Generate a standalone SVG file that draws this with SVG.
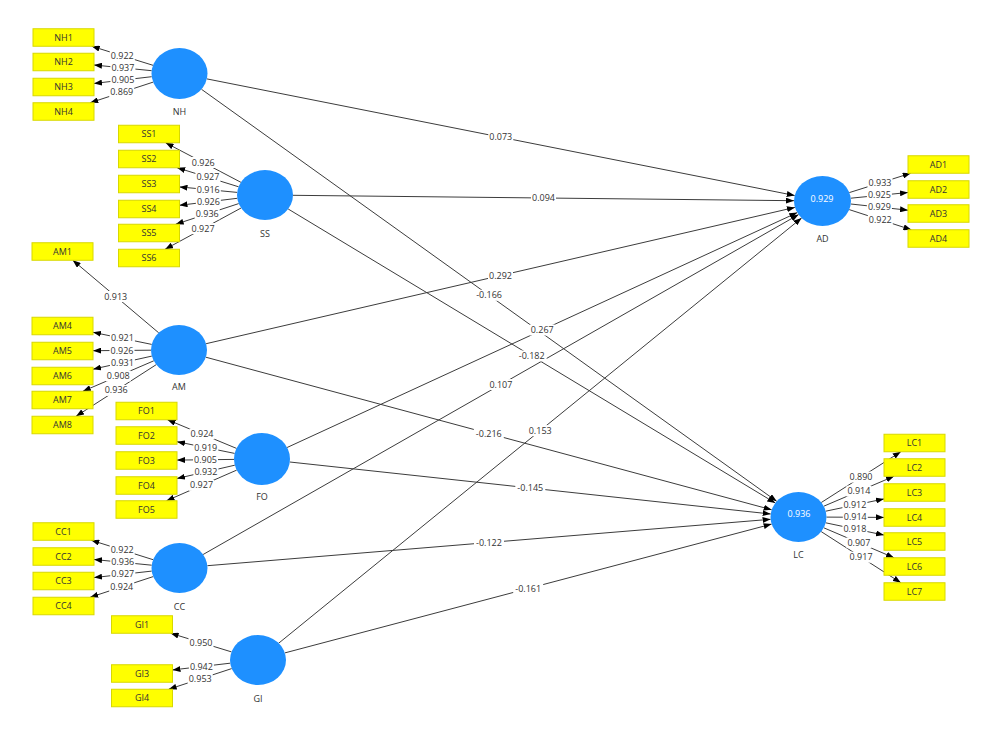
<svg xmlns="http://www.w3.org/2000/svg" width="989" height="733" viewBox="0 0 989 733">
<defs>
<marker id="arr" viewBox="0 0 8 6" refX="8" refY="3" markerWidth="8" markerHeight="6" orient="auto" markerUnits="userSpaceOnUse"><path d="M0,0 L8,3 L0,6 z" fill="#000"/></marker>
<style>
.bg{fill:#fff}
.box{fill:#ffff00;stroke:#d8d800;stroke-width:1}
.bt{font-family:"Open Sans","Liberation Sans",sans-serif;font-size:9px;fill:#333;text-anchor:middle}
.lv{fill:#1e90ff}
.vt{font-family:"Open Sans","Liberation Sans",sans-serif;font-size:9px;fill:#fff;text-anchor:middle}
.ln{stroke:#3c3c3c;stroke-width:1;fill:none;marker-end:url(#arr)}
.lr{fill:#fff}
.lt{font-family:"Open Sans","Liberation Sans",sans-serif;font-size:9px;fill:#333;text-anchor:middle}
</style>
</defs>
<rect class="bg" x="0" y="0" width="989" height="733"/>
<g id="connectors">
<line class="ln" x1="153.0" y1="65.3" x2="91.7" y2="46.25"/>
<line class="ln" x1="151.7" y1="70.7" x2="94" y2="65.0"/>
<line class="ln" x1="151.7" y1="76.7" x2="94" y2="83.45"/>
<line class="ln" x1="153.2" y1="82.1" x2="90.2" y2="102.75"/>
<line class="ln" x1="240.9" y1="182.3" x2="165.6" y2="142.75"/>
<line class="ln" x1="238.6" y1="186.8" x2="177.2" y2="167.75"/>
<line class="ln" x1="237.2" y1="192.4" x2="179.5" y2="186.9"/>
<line class="ln" x1="237.3" y1="198.3" x2="179.5" y2="205.3"/>
<line class="ln" x1="238.7" y1="203.6" x2="175.7" y2="224.25"/>
<line class="ln" x1="241.1" y1="208.0" x2="165.1" y2="249.25"/>
<line class="ln" x1="158.7" y1="332.8" x2="72.8" y2="260.25"/>
<line class="ln" x1="151.7" y1="344.4" x2="93" y2="332.3"/>
<line class="ln" x1="151" y1="350.2" x2="93" y2="350.7"/>
<line class="ln" x1="151.8" y1="356.1" x2="93" y2="369.2"/>
<line class="ln" x1="153.8" y1="360.8" x2="82.9" y2="391.25"/>
<line class="ln" x1="156.3" y1="364.6" x2="76.1" y2="416.25"/>
<line class="ln" x1="236.5" y1="448.4" x2="167.5" y2="419.75"/>
<line class="ln" x1="234.6" y1="453.4" x2="177" y2="441.7"/>
<line class="ln" x1="234" y1="459.4" x2="177" y2="460.1"/>
<line class="ln" x1="234.8" y1="465.2" x2="177" y2="478.5"/>
<line class="ln" x1="236.7" y1="470.1" x2="166.5" y2="500.75"/>
<line class="ln" x1="153.1" y1="559.7" x2="91.3" y2="540.25"/>
<line class="ln" x1="151.7" y1="565.2" x2="94" y2="559.5"/>
<line class="ln" x1="151.7" y1="571.1" x2="94" y2="577.6"/>
<line class="ln" x1="153.2" y1="576.6" x2="90.2" y2="597.25"/>
<line class="ln" x1="231.5" y1="651.9" x2="170.6" y2="633.25"/>
<line class="ln" x1="230.2" y1="663.2" x2="172.5" y2="669.95"/>
<line class="ln" x1="231.7" y1="668.6" x2="168.7" y2="689.25"/>
<line class="ln" x1="849.3" y1="192.6" x2="910.7" y2="173.25"/>
<line class="ln" x1="850.8" y1="198.2" x2="908" y2="192.5"/>
<line class="ln" x1="850.8" y1="204.0" x2="908" y2="210.2"/>
<line class="ln" x1="849.2" y1="209.6" x2="911.4" y2="229.75"/>
<line class="ln" x1="821.3" y1="502.5" x2="900.8" y2="451.75"/>
<line class="ln" x1="823.8" y1="506.2" x2="894" y2="476.25"/>
<line class="ln" x1="825.7" y1="511.2" x2="884" y2="498.9"/>
<line class="ln" x1="826.5" y1="517.1" x2="884" y2="517.4"/>
<line class="ln" x1="825.7" y1="522.8" x2="884" y2="535.1"/>
<line class="ln" x1="823.8" y1="527.8" x2="894" y2="557.75"/>
<line class="ln" x1="821.2" y1="531.6" x2="900.9" y2="582.75"/>
<line class="ln" x1="206.9" y1="78.9" x2="794.7" y2="195.5"/>
<line class="ln" x1="201.5" y1="89.3" x2="776.7" y2="501.3"/>
<line class="ln" x1="293" y1="195.3" x2="794" y2="200.7"/>
<line class="ln" x1="288.2" y1="209" x2="775.3" y2="503"/>
<line class="ln" x1="206.1" y1="343.7" x2="794.9" y2="207.4"/>
<line class="ln" x1="205.8" y1="357.2" x2="771.7" y2="509.8"/>
<line class="ln" x1="287.1" y1="447.5" x2="797.3" y2="212.6"/>
<line class="ln" x1="289.8" y1="462" x2="770.7" y2="514"/>
<line class="ln" x1="203.1" y1="554.5" x2="798.6" y2="214.6"/>
<line class="ln" x1="207.4" y1="565.7" x2="770.6" y2="519.3"/>
<line class="ln" x1="278.7" y1="643.2" x2="801.6" y2="218"/>
<line class="ln" x1="284.9" y1="652.9" x2="771.6" y2="524.1"/>
</g>
<g id="connector-labels">
<rect class="lr" x="109.8" y="50.3" width="25" height="11"/><text class="lt" x="122.3" y="58.8">0.922</text>
<rect class="lr" x="110.4" y="62.4" width="25" height="11"/><text class="lt" x="122.9" y="70.9">0.937</text>
<rect class="lr" x="110.4" y="74.6" width="25" height="11"/><text class="lt" x="122.9" y="83.1">0.905</text>
<rect class="lr" x="109.2" y="86.9" width="25" height="11"/><text class="lt" x="121.7" y="95.4">0.869</text>
<rect class="lr" x="190.8" y="157" width="25" height="11"/><text class="lt" x="203.3" y="165.5">0.926</text>
<rect class="lr" x="195.4" y="171.8" width="25" height="11"/><text class="lt" x="207.9" y="180.3">0.927</text>
<rect class="lr" x="195.8" y="184.1" width="25" height="11"/><text class="lt" x="208.3" y="192.6">0.916</text>
<rect class="lr" x="195.9" y="196.3" width="25" height="11"/><text class="lt" x="208.4" y="204.8">0.926</text>
<rect class="lr" x="194.7" y="208.4" width="25" height="11"/><text class="lt" x="207.2" y="216.9">0.936</text>
<rect class="lr" x="190.6" y="223.1" width="25" height="11"/><text class="lt" x="203.1" y="231.6">0.927</text>
<rect class="lr" x="103.2" y="291" width="25" height="11"/><text class="lt" x="115.7" y="299.5">0.913</text>
<rect class="lr" x="109.9" y="332.8" width="25" height="11"/><text class="lt" x="122.4" y="341.3">0.921</text>
<rect class="lr" x="109.5" y="345" width="25" height="11"/><text class="lt" x="122" y="353.5">0.926</text>
<rect class="lr" x="109.9" y="357.1" width="25" height="11"/><text class="lt" x="122.4" y="365.6">0.931</text>
<rect class="lr" x="105.8" y="370.5" width="25" height="11"/><text class="lt" x="118.3" y="379">0.908</text>
<rect class="lr" x="103.7" y="384.9" width="25" height="11"/><text class="lt" x="116.2" y="393.4">0.936</text>
<rect class="lr" x="189.5" y="428.5" width="25" height="11"/><text class="lt" x="202" y="437">0.924</text>
<rect class="lr" x="193.3" y="442.1" width="25" height="11"/><text class="lt" x="205.8" y="450.6">0.919</text>
<rect class="lr" x="193" y="454.2" width="25" height="11"/><text class="lt" x="205.5" y="462.7">0.905</text>
<rect class="lr" x="193.4" y="466.4" width="25" height="11"/><text class="lt" x="205.9" y="474.9">0.932</text>
<rect class="lr" x="189.1" y="479.9" width="25" height="11"/><text class="lt" x="201.6" y="488.4">0.927</text>
<rect class="lr" x="109.7" y="544.5" width="25" height="11"/><text class="lt" x="122.2" y="553">0.922</text>
<rect class="lr" x="110.3" y="556.9" width="25" height="11"/><text class="lt" x="122.8" y="565.4">0.936</text>
<rect class="lr" x="110.3" y="568.9" width="25" height="11"/><text class="lt" x="122.8" y="577.4">0.927</text>
<rect class="lr" x="109.2" y="581.4" width="25" height="11"/><text class="lt" x="121.7" y="589.9">0.924</text>
<rect class="lr" x="188.5" y="637.1" width="25" height="11"/><text class="lt" x="201" y="645.6">0.950</text>
<rect class="lr" x="188.9" y="661.1" width="25" height="11"/><text class="lt" x="201.4" y="669.6">0.942</text>
<rect class="lr" x="187.7" y="673.5" width="25" height="11"/><text class="lt" x="200.2" y="682">0.953</text>
<rect class="lr" x="867.5" y="177.4" width="25" height="11"/><text class="lt" x="880" y="185.9">0.933</text>
<rect class="lr" x="866.9" y="189.9" width="25" height="11"/><text class="lt" x="879.4" y="198.4">0.925</text>
<rect class="lr" x="866.9" y="201.6" width="25" height="11"/><text class="lt" x="879.4" y="210.1">0.929</text>
<rect class="lr" x="867.8" y="214.2" width="25" height="11"/><text class="lt" x="880.3" y="222.7">0.922</text>
<rect class="lr" x="848.5" y="471.6" width="25" height="11"/><text class="lt" x="861" y="480.1">0.890</text>
<rect class="lr" x="846.4" y="485.7" width="25" height="11"/><text class="lt" x="858.9" y="494.2">0.914</text>
<rect class="lr" x="842.4" y="499.6" width="25" height="11"/><text class="lt" x="854.9" y="508.1">0.912</text>
<rect class="lr" x="842.8" y="511.8" width="25" height="11"/><text class="lt" x="855.3" y="520.3">0.914</text>
<rect class="lr" x="842.4" y="523.5" width="25" height="11"/><text class="lt" x="854.9" y="532">0.918</text>
<rect class="lr" x="846.4" y="537.3" width="25" height="11"/><text class="lt" x="858.9" y="545.8">0.907</text>
<rect class="lr" x="848.6" y="551.7" width="25" height="11"/><text class="lt" x="861.1" y="560.2">0.917</text>
<rect class="lr" x="488.3" y="131.7" width="25" height="11"/><text class="lt" x="500.8" y="140.2">0.073</text>
<rect class="lr" x="474.1" y="289.8" width="30" height="11"/><text class="lt" x="489.1" y="298.3">-0.166</text>
<rect class="lr" x="531" y="192.5" width="25" height="11"/><text class="lt" x="543.5" y="201">0.094</text>
<rect class="lr" x="516.7" y="350.5" width="30" height="11"/><text class="lt" x="531.7" y="359">-0.182</text>
<rect class="lr" x="488" y="270.1" width="25" height="11"/><text class="lt" x="500.5" y="278.6">0.292</text>
<rect class="lr" x="473.8" y="428" width="30" height="11"/><text class="lt" x="488.8" y="436.5">-0.216</text>
<rect class="lr" x="529.7" y="324.5" width="25" height="11"/><text class="lt" x="542.2" y="333">0.267</text>
<rect class="lr" x="515.3" y="482.5" width="30" height="11"/><text class="lt" x="530.3" y="491">-0.145</text>
<rect class="lr" x="488.4" y="379.1" width="25" height="11"/><text class="lt" x="500.9" y="387.6">0.107</text>
<rect class="lr" x="474" y="537" width="30" height="11"/><text class="lt" x="489" y="545.5">-0.122</text>
<rect class="lr" x="527.7" y="425.1" width="25" height="11"/><text class="lt" x="540.2" y="433.6">0.153</text>
<rect class="lr" x="513.2" y="583" width="30" height="11"/><text class="lt" x="528.2" y="591.5">-0.161</text>
</g>
<g id="NH"><ellipse class="lv" cx="179.5" cy="73.5" rx="28" ry="25.5"/><text class="bt" x="179.5" y="115">NH</text></g>
<g id="SS"><ellipse class="lv" cx="265" cy="195" rx="28" ry="25"/><text class="bt" x="265" y="237">SS</text></g>
<g id="AM"><ellipse class="lv" cx="179" cy="350" rx="28" ry="25"/><text class="bt" x="179" y="390">AM</text></g>
<g id="FO"><ellipse class="lv" cx="262" cy="459" rx="28" ry="26"/><text class="bt" x="262" y="500">FO</text></g>
<g id="CC"><ellipse class="lv" cx="179.5" cy="568" rx="28" ry="25"/><text class="bt" x="179.5" y="610">CC</text></g>
<g id="GI"><ellipse class="lv" cx="258" cy="660" rx="28" ry="25"/><text class="bt" x="258" y="702">GI</text></g>
<g id="AD"><ellipse class="lv" cx="822.5" cy="201" rx="28.5" ry="25"/><text class="vt" x="822" y="202">0.929</text><text class="bt" x="822.5" y="242">AD</text></g>
<g id="LC"><ellipse class="lv" cx="798.5" cy="517" rx="28" ry="25"/><text class="vt" x="799" y="517">0.936</text><text class="bt" x="798.5" y="558">LC</text></g>
<g id="NH1"><rect class="box" x="33" y="28.75" width="61" height="17.5"/><text class="bt" x="63.5" y="40.7">NH1</text></g>
<g id="NH2"><rect class="box" x="33" y="53.25" width="61" height="17.5"/><text class="bt" x="63.5" y="65.2">NH2</text></g>
<g id="NH3"><rect class="box" x="33" y="78.25" width="61" height="17.5"/><text class="bt" x="63.5" y="90.2">NH3</text></g>
<g id="NH4"><rect class="box" x="33" y="102.75" width="61" height="17.5"/><text class="bt" x="63.5" y="114.7">NH4</text></g>
<g id="SS1"><rect class="box" x="118.5" y="125.25" width="61" height="17.5"/><text class="bt" x="149" y="137.2">SS1</text></g>
<g id="SS2"><rect class="box" x="118.5" y="150.25" width="61" height="17.5"/><text class="bt" x="149" y="162.2">SS2</text></g>
<g id="SS3"><rect class="box" x="118.5" y="175.25" width="61" height="17.5"/><text class="bt" x="149" y="187.2">SS3</text></g>
<g id="SS4"><rect class="box" x="118.5" y="200.25" width="61" height="17.5"/><text class="bt" x="149" y="212.2">SS4</text></g>
<g id="SS5"><rect class="box" x="118.5" y="224.25" width="61" height="17.5"/><text class="bt" x="149" y="236.2">SS5</text></g>
<g id="SS6"><rect class="box" x="118.5" y="249.25" width="61" height="17.5"/><text class="bt" x="149" y="261.2">SS6</text></g>
<g id="AM1"><rect class="box" x="32" y="242.75" width="61" height="17.5"/><text class="bt" x="62.5" y="254.7">AM1</text></g>
<g id="AM4"><rect class="box" x="32" y="317.25" width="61" height="17.5"/><text class="bt" x="62.5" y="329.2">AM4</text></g>
<g id="AM5"><rect class="box" x="32" y="342.25" width="61" height="17.5"/><text class="bt" x="62.5" y="354.2">AM5</text></g>
<g id="AM6"><rect class="box" x="32" y="367.25" width="61" height="17.5"/><text class="bt" x="62.5" y="379.2">AM6</text></g>
<g id="AM7"><rect class="box" x="32" y="391.25" width="61" height="17.5"/><text class="bt" x="62.5" y="403.2">AM7</text></g>
<g id="AM8"><rect class="box" x="32" y="416.25" width="61" height="17.5"/><text class="bt" x="62.5" y="428.2">AM8</text></g>
<g id="FO1"><rect class="box" x="116" y="402.25" width="61" height="17.5"/><text class="bt" x="146.5" y="414.2">FO1</text></g>
<g id="FO2"><rect class="box" x="116" y="426.75" width="61" height="17.5"/><text class="bt" x="146.5" y="438.7">FO2</text></g>
<g id="FO3"><rect class="box" x="116" y="451.75" width="61" height="17.5"/><text class="bt" x="146.5" y="463.7">FO3</text></g>
<g id="FO4"><rect class="box" x="116" y="476.75" width="61" height="17.5"/><text class="bt" x="146.5" y="488.7">FO4</text></g>
<g id="FO5"><rect class="box" x="116" y="500.75" width="61" height="17.5"/><text class="bt" x="146.5" y="512.7">FO5</text></g>
<g id="CC1"><rect class="box" x="33" y="522.75" width="61" height="17.5"/><text class="bt" x="63.5" y="534.7">CC1</text></g>
<g id="CC2"><rect class="box" x="33" y="547.75" width="61" height="17.5"/><text class="bt" x="63.5" y="559.7">CC2</text></g>
<g id="CC3"><rect class="box" x="33" y="572.25" width="61" height="17.5"/><text class="bt" x="63.5" y="584.2">CC3</text></g>
<g id="CC4"><rect class="box" x="33" y="597.25" width="61" height="17.5"/><text class="bt" x="63.5" y="609.2">CC4</text></g>
<g id="GI1"><rect class="box" x="111.5" y="615.75" width="61" height="17.5"/><text class="bt" x="142" y="627.7">GI1</text></g>
<g id="GI3"><rect class="box" x="111.5" y="664.75" width="61" height="17.5"/><text class="bt" x="142" y="676.7">GI3</text></g>
<g id="GI4"><rect class="box" x="111.5" y="689.25" width="61" height="17.5"/><text class="bt" x="142" y="701.2">GI4</text></g>
<g id="AD1"><rect class="box" x="908" y="155.75" width="61" height="17.5"/><text class="bt" x="938.5" y="167.7">AD1</text></g>
<g id="AD2"><rect class="box" x="908" y="180.75" width="61" height="17.5"/><text class="bt" x="938.5" y="192.7">AD2</text></g>
<g id="AD3"><rect class="box" x="908" y="204.75" width="61" height="17.5"/><text class="bt" x="938.5" y="216.7">AD3</text></g>
<g id="AD4"><rect class="box" x="908" y="229.75" width="61" height="17.5"/><text class="bt" x="938.5" y="241.7">AD4</text></g>
<g id="LC1"><rect class="box" x="884" y="434.25" width="61" height="17.5"/><text class="bt" x="914.5" y="446.2">LC1</text></g>
<g id="LC2"><rect class="box" x="884" y="458.75" width="61" height="17.5"/><text class="bt" x="914.5" y="470.7">LC2</text></g>
<g id="LC3"><rect class="box" x="884" y="483.75" width="61" height="17.5"/><text class="bt" x="914.5" y="495.7">LC3</text></g>
<g id="LC4"><rect class="box" x="884" y="508.75" width="61" height="17.5"/><text class="bt" x="914.5" y="520.7">LC4</text></g>
<g id="LC5"><rect class="box" x="884" y="532.75" width="61" height="17.5"/><text class="bt" x="914.5" y="544.7">LC5</text></g>
<g id="LC6"><rect class="box" x="884" y="557.75" width="61" height="17.5"/><text class="bt" x="914.5" y="569.7">LC6</text></g>
<g id="LC7"><rect class="box" x="884" y="582.75" width="61" height="17.5"/><text class="bt" x="914.5" y="594.7">LC7</text></g>
</svg>
